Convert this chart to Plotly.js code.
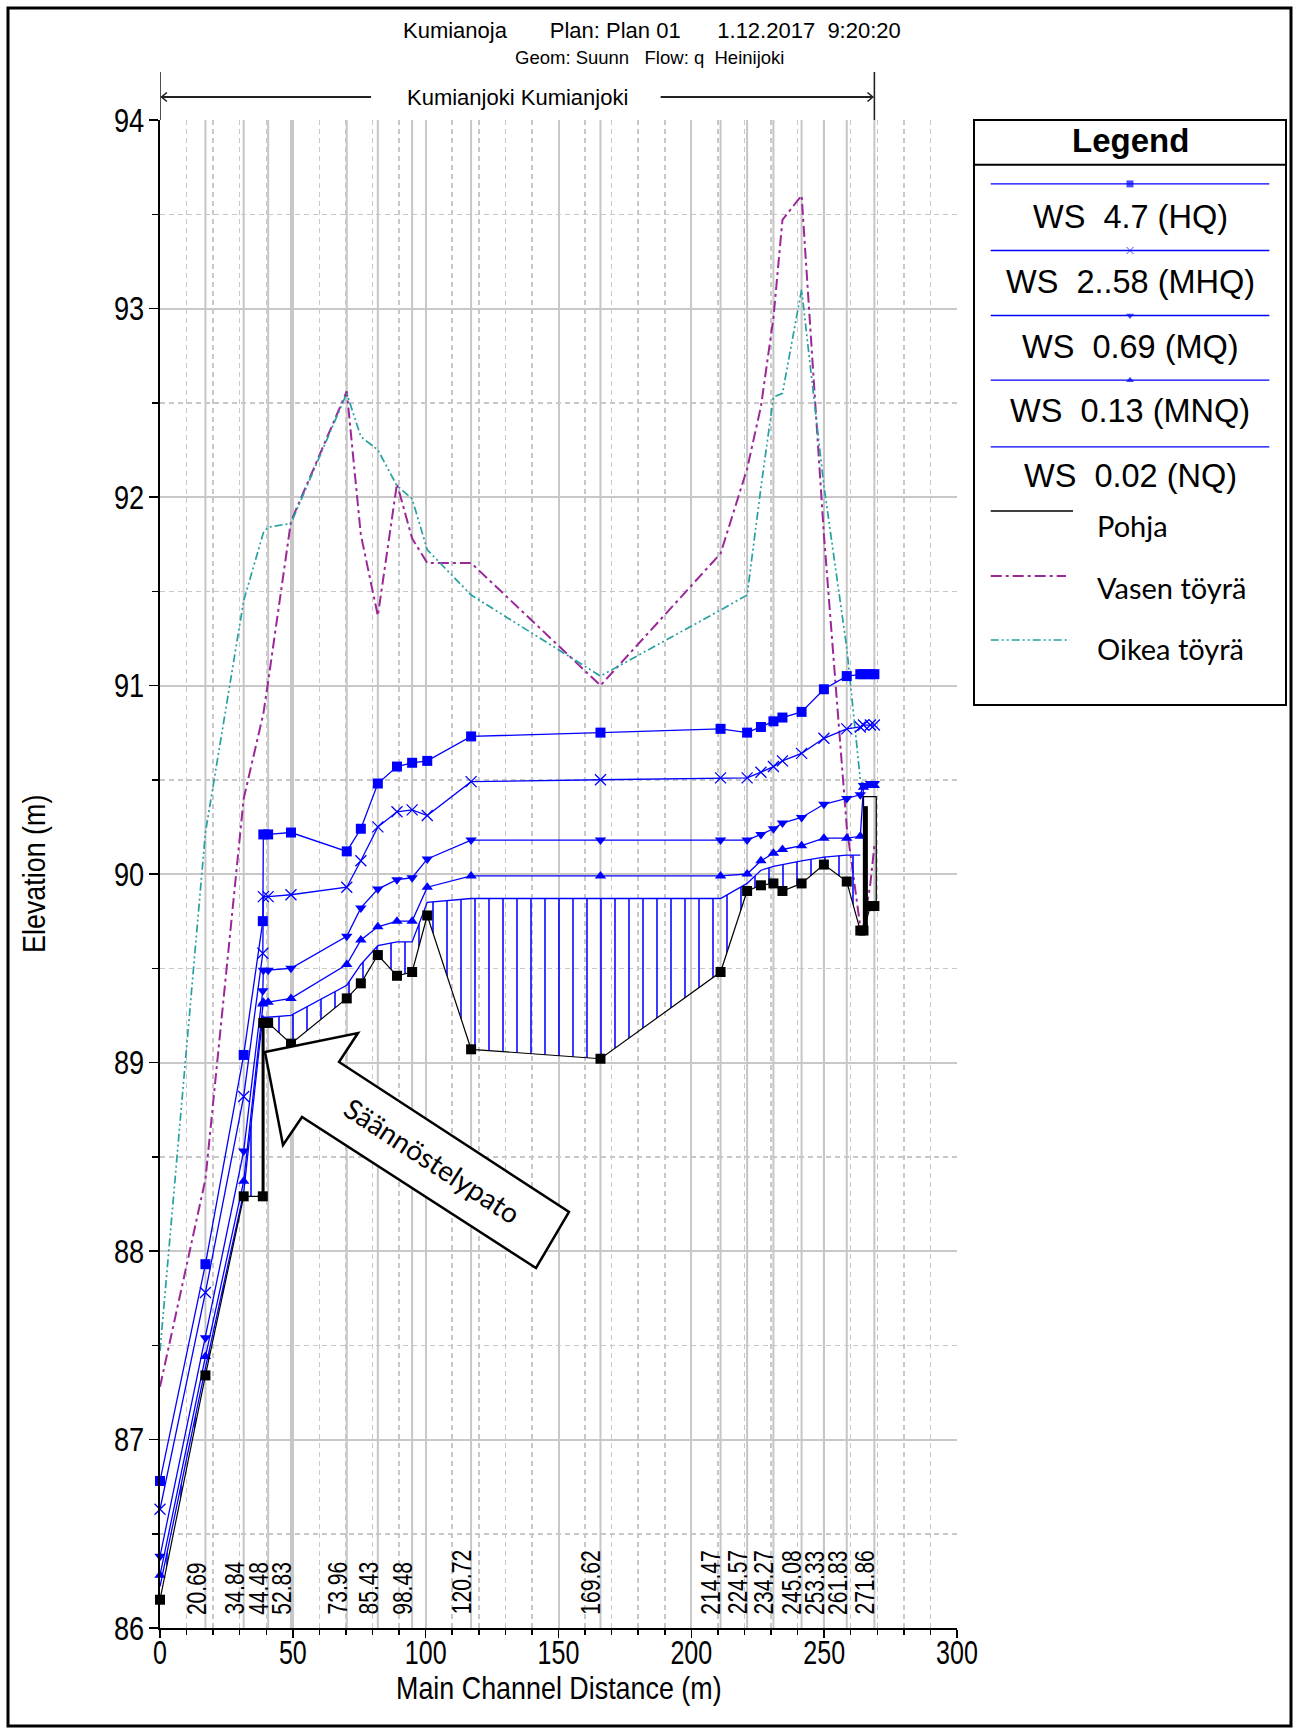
<!DOCTYPE html>
<html><head><meta charset="utf-8">
<script src="https://cdn.plot.ly/plotly-3.0.1.min.js"></script>
<style>html,body{margin:0;padding:0;background:#fff}#chart{width:1296px;height:1733px}</style>
</head><body><div id="chart"></div>
<script>
// ---------------- DATA ----------------
// main channel distance of every cross section (m)
const distance = [0, 17.1, 31.5, 38.7, 38.9, 40.7, 49.3, 70.3, 75.6, 82.0, 89.2, 94.9, 100.6, 117.1, 165.8, 211.0, 221.0, 226.2, 230.9, 234.3, 241.5, 249.9, 258.5, 263.6, 264.8, 267.4, 268.9];
// water surface profiles (m)
const wsHQ  = [86.78, 87.93, 89.04, 89.75, 90.21, 90.21, 90.22, 90.12, 90.24, 90.48, 90.57, 90.59, 90.60, 90.73, 90.75, 90.77, 90.75, 90.78, 90.81, 90.83, 90.86, 90.98, 91.05, 91.06, 91.06, 91.06, 91.06];
const wsMHQ = [86.63, 87.78, 88.82, 89.58, 89.88, 89.88, 89.89, 89.93, 90.07, 90.25, 90.33, 90.34, 90.31, 90.49, 90.50, 90.51, 90.51, 90.54, 90.57, 90.60, 90.64, 90.72, 90.77, 90.78, 90.79, 90.79, 90.79];
const wsMQ  = [86.38, 87.54, 88.53, 89.38, 89.49, 89.49, 89.50, 89.67, 89.82, 89.92, 89.97, 89.98, 90.08, 90.18, 90.18, 90.18, 90.18, 90.21, 90.24, 90.27, 90.30, 90.37, 90.40, 90.42, 90.47, 90.48, 90.48];
const wsMNQ = [86.28, 87.44, 88.37, 89.31, 89.32, 89.32, 89.34, 89.52, 89.65, 89.72, 89.75, 89.75, 89.93, 89.99, 89.99, 89.99, 90.00, 90.07, 90.11, 90.13, 90.15, 90.19, 90.19, 90.20, 90.46, 90.47, 90.47];
const wsNQ  = [86.22, 87.38, 88.31, 89.25, 89.24, 89.24, 89.25, 89.41, 89.52, 89.62, 89.64, 89.64, 89.85, 89.87, 89.87, 89.87, 89.95, 90.02, 90.04, 90.05, 90.07, 90.09, 90.10, 90.10, null, null, null];
// channel bed (Pohja)
const bed   = [86.15, 87.34, 88.29, 88.29, 89.21, 89.21, 89.10, 89.34, 89.42, 89.57, 89.46, 89.48, 89.78, 89.07, 89.02, 89.48, 89.91, 89.94, 89.95, 89.91, 89.95, 90.05, 89.96, 89.70, 89.70, 89.83, 89.83];
// bank elevations
const leftBank  = [87.28, 88.38, 90.40, 90.83, 90.85, 91.02, 91.87, 92.56, 91.80, 91.37, 92.07, 91.78, 91.65, 91.65, 91.00, 91.70, 92.15, 92.48, 92.95, 93.47, 93.60, 91.80, 90.25, 89.72, 89.72, 89.95, 90.15];
const rightBank = [87.47, 90.22, 91.45, 91.80, 91.81, 91.84, 91.86, 92.55, 92.32, 92.25, 92.06, 91.99, 91.72, 91.48, 91.05, 91.40, 91.48, 92.05, 92.53, 92.55, 93.10, 92.06, 91.20, 90.50, 90.47, 90.47, 90.47];
// labelled river stations and their distances
const stationLabels = ['20.69','34.84','44.48','52.83','73.96','85.43','98.48','120.72','169.62','214.47','224.57','234.27','245.08','253.33','261.83','271.86'];
const stationDist   = [17.1, 31.5, 40.7, 49.3, 70.3, 82.0, 94.9, 117.1, 165.8, 211.0, 221.0, 230.9, 241.5, 249.9, 258.5, 268.9];
// structures
const damX = [38.8, 38.8];            const damY = [88.29, 89.21];
const bridgeX = [264.8, 264.8, 269.6, 269.6]; const bridgeY = [89.70, 90.41, 90.41, 89.83];
const bridgeWallX = [265.7, 265.7];   const bridgeWallY = [89.72, 90.36];
// names
const wsNames = ['WS\u00a0\u00a04.7 (HQ)', 'WS\u00a0\u00a02..58 (MHQ)', 'WS\u00a0\u00a00.69 (MQ)', 'WS\u00a0\u00a00.13 (MNQ)', 'WS\u00a0\u00a00.02 (NQ)'];
const otherNames = ['Pohja', 'Vasen töyrä', 'Oikea töyrä'];
const xTickVals = [0, 50, 100, 150, 200, 250, 300];
const yTickVals = [86, 87, 88, 89, 90, 91, 92, 93, 94];

// ---------------- LAYOUT HELPERS ----------------
const W = 1296, H = 1733;
const M = {l: 160, r: 6, t: 120, b: 105};
const PW = W - M.l - M.r, PH = H - M.t - M.b;
const xp = px => (px - M.l) / PW;
const yp = py => (H - M.b - py) / PH;
const ARIAL = 'Liberation Sans, Arial, sans-serif';
const CAL = 'Lato, Open Sans, sans-serif';
const BLUE = '#0000ff', PURPLE = '#9b2799', TEAL = '#26a0a0';
const purpleDash = '11px,4px,3px,4px';
const tealDash = '8px,3px,2px,3px,2px,3px';

const wsStyles = [
  {sym: 'square', size: 10},
  {sym: 'x-thin', size: 11},
  {sym: 'triangle-down', size: 10},
  {sym: 'triangle-up', size: 10},
  null
];
const wsData = [wsHQ, wsMHQ, wsMQ, wsMNQ, wsNQ];

const traces = [];
// cross section lines
const slx = [], sly = [];
stationDist.forEach(d => { slx.push(d, d, null); sly.push(86, 94, null); });
traces.push({x: slx, y: sly, mode: 'lines', line: {color: '#c6c6c6', width: 2}, hoverinfo: 'skip', showlegend: false});
// banks
traces.push({x: distance, y: leftBank, mode: 'lines', line: {color: PURPLE, width: 2, dash: purpleDash}, name: otherNames[1], showlegend: false});
traces.push({x: distance, y: rightBank, mode: 'lines', line: {color: TEAL, width: 1.7, dash: tealDash}, name: otherNames[2], showlegend: false});
// hatch fill between bed and NQ
const nqIdx = wsNQ.map((v, i) => v === null ? -1 : i).filter(i => i >= 0);
traces.push({x: nqIdx.map(i => distance[i]), y: nqIdx.map(i => bed[i]), mode: 'lines', line: {width: 0, color: 'rgba(0,0,0,0)'}, hoverinfo: 'skip', showlegend: false});
traces.push({x: nqIdx.map(i => distance[i]), y: nqIdx.map(i => wsNQ[i]), mode: 'lines', name: wsNames[4],
  line: {color: BLUE, width: 1.3}, fill: 'tonexty', fillcolor: 'rgba(0,0,0,0)',
  fillpattern: {shape: '|', fgcolor: BLUE, bgcolor: 'rgba(255,255,255,0)', size: 14, solidity: 0.11}, showlegend: false, cliponaxis: false});
// other water surfaces
for (let k = 3; k >= 0; k--) {
  const st = wsStyles[k];
  traces.push({x: distance, y: wsData[k], mode: 'lines+markers', name: wsNames[k], showlegend: false, cliponaxis: false,
    line: {color: BLUE, width: 1.3},
    marker: {symbol: st.sym, size: st.size, color: BLUE, line: {color: BLUE, width: st.sym === 'x-thin' ? 1.3 : 0}}});
}
// bed
traces.push({x: distance, y: bed, mode: 'lines+markers', name: otherNames[0], showlegend: false, cliponaxis: false,
  line: {color: '#000', width: 1.2}, marker: {symbol: 'square', size: 10, color: '#000'}});
// dam and bridge
traces.push({x: damX, y: damY, mode: 'lines', line: {color: '#000', width: 3}, hoverinfo: 'skip', showlegend: false});
traces.push({x: bridgeX, y: bridgeY, mode: 'lines', line: {color: '#000', width: 1.3}, hoverinfo: 'skip', showlegend: false});
traces.push({x: bridgeWallX, y: bridgeWallY, mode: 'lines', line: {color: '#000', width: 4}, hoverinfo: 'skip', showlegend: false});

// ---------------- LEGEND (own box) ----------------
const legLineY = [183.9, 250.5, 315.5, 380.2, 446.8];
const legTextY = [215.2, 280.3, 345.4, 409.3, 473.6];
const legX = [990.7, 1130, 1269.3];
wsNames.forEach((n, k) => {
  const st = wsStyles[k];
  const ly = legLineY[k];
  const tr = {x: legX, y: [ly, ly, ly], xaxis: 'x2', yaxis: 'y2', mode: 'lines', showlegend: false, hoverinfo: 'skip',
    line: {color: BLUE, width: 1.3}};
  if (st) {
    tr.mode = 'lines+markers';
    tr.marker = {symbol: st.sym, size: [0, 7, 0], color: BLUE, line: {color: BLUE, width: st.sym === 'x-thin' ? 1 : 0}};
  }
  traces.push(tr);
});
const otherLineY = [511, 576, 640];
const otherLineEnd = [1073, 1066, 1070];
const otherStyles = [{color: '#000', width: 1.3}, {color: PURPLE, width: 2, dash: purpleDash}, {color: TEAL, width: 1.7, dash: tealDash}];
otherNames.forEach((n, k) => {
  traces.push({x: [990.7, otherLineEnd[k]], y: [otherLineY[k], otherLineY[k]], xaxis: 'x2', yaxis: 'y2', mode: 'lines', line: otherStyles[k], showlegend: false, hoverinfo: 'skip'});
});

const annotations = [];
const narrowList = []; // [annotation index, factor, pivot]
function addAnn(a, nar) { annotations.push(a); if (nar) narrowList.push([annotations.length - 1, nar[0], nar[1]]); }
// titles
addAnn({xref: 'paper', yref: 'paper', x: xp(652), y: yp(31), xanchor: 'center', yanchor: 'middle', showarrow: false,
  text: 'Kumianoja' + '\u00a0'.repeat(7) + 'Plan: Plan 01' + '\u00a0'.repeat(6) + '1.12.2017' + '\u00a0'.repeat(2) + '9:20:20',
  font: {family: ARIAL, size: 22, color: '#000'}});
addAnn({xref: 'paper', yref: 'paper', x: xp(649), y: yp(58), xanchor: 'center', yanchor: 'middle', showarrow: false,
  text: 'Geom: Suunn' + '\u00a0'.repeat(3) + 'Flow: q' + '\u00a0'.repeat(2) + 'Heinijoki',
  font: {family: ARIAL, size: 18.5, color: '#000'}});
// reach label
const reachMid = (distance[0] + distance[distance.length - 1]) / 2;
addAnn({xref: 'x', yref: 'paper', x: reachMid, y: yp(97), xanchor: 'center', yanchor: 'middle', showarrow: false,
  text: 'Kumianjoki Kumianjoki', font: {family: ARIAL, size: 22, color: '#000'}});
// axis titles
addAnn({xref: 'x', yref: 'paper', x: 150, y: yp(1688), xanchor: 'center', yanchor: 'middle', showarrow: false,
  text: 'Main Channel Distance (m)', font: {family: ARIAL, size: 32, color: '#000'}}, [0.84, 'center']);
addAnn({xref: 'paper', yref: 'paper', x: xp(34), y: 0.5, xanchor: 'center', yanchor: 'middle', showarrow: false, textangle: -90,
  text: 'Elevation (m)', font: {family: ARIAL, size: 32, color: '#000'}}, [0.84, 'center']);
// station labels
stationLabels.forEach((s, i) => {
  addAnn({xref: 'x', yref: 'y', x: stationDist[i], y: 86.06, xanchor: 'right', yanchor: 'bottom', textangle: -90, showarrow: false,
    xshift: 8, text: s, font: {family: ARIAL, size: 27, color: '#000'}}, [0.78, 'start']);
});
// legend texts
addAnn({xref: 'paper', yref: 'paper', x: xp(1130), y: yp(141), xanchor: 'center', yanchor: 'middle', showarrow: false,
  text: '<b>Legend</b>', font: {family: ARIAL, size: 33, color: '#000'}});
wsNames.forEach((n, k) => addAnn({xref: 'paper', yref: 'paper', x: xp(1130), y: yp(legTextY[k] + 2), xanchor: 'center', yanchor: 'middle', showarrow: false,
  text: n, font: {family: ARIAL, size: 32.5, color: '#000'}}));
const otherTextY = [525, 587, 648];
otherNames.forEach((n, k) => addAnn({xref: 'paper', yref: 'paper', x: xp(1095), y: yp(otherTextY[k]), xanchor: 'left', yanchor: 'middle', showarrow: false,
  text: n, font: {family: CAL, size: 29, color: '#000'}}));
// Säännöstelypato arrow text
addAnn({xref: 'paper', yref: 'paper', x: xp(432), y: yp(1160), xanchor: 'center', yanchor: 'middle', showarrow: false, textangle: 33.2,
  text: 'Säännöstelypato', font: {family: CAL, size: 28, color: '#000'}});

const shapes = [];
// outer frame
shapes.push({type: 'rect', xref: 'paper', yref: 'paper', x0: xp(8), x1: xp(1291), y0: yp(8), y1: yp(1726), line: {color: '#000', width: 3}, fillcolor: 'rgba(0,0,0,0)'});
// reach arrow
const r0 = distance[0], r1 = distance[distance.length - 1];
const yTop = yp(72), yArr = yp(97), yBase = yp(120);
const lineStyle = {color: '#222', width: 1.6};
shapes.push({type: 'line', xref: 'x', yref: 'paper', x0: r0, x1: r0, y0: yBase, y1: yTop, line: lineStyle});
shapes.push({type: 'line', xref: 'x', yref: 'paper', x0: r1, x1: r1, y0: yBase, y1: yTop, line: lineStyle});
shapes.push({type: 'line', xref: 'x', yref: 'paper', x0: r0 + 0.5, x1: reachMid - 55, y0: yArr, y1: yArr, line: {color: '#222', width: 2}});
shapes.push({type: 'line', xref: 'x', yref: 'paper', x0: reachMid + 54, x1: r1 - 0.5, y0: yArr, y1: yArr, line: {color: '#222', width: 2}});
shapes.push({type: 'path', xref: 'x', yref: 'paper', path: `M ${r0 + 2.6},${yp(92.5)} L ${r0 + 0.6},${yArr} L ${r0 + 2.6},${yp(101.5)}`, line: lineStyle});
shapes.push({type: 'path', xref: 'x', yref: 'paper', path: `M ${r1 - 2.6},${yp(92.5)} L ${r1 - 0.6},${yArr} L ${r1 - 2.6},${yp(101.5)}`, line: lineStyle});
// legend box
shapes.push({type: 'rect', xref: 'paper', yref: 'paper', x0: xp(974), x1: xp(1286), y0: yp(120), y1: yp(705), line: {color: '#000', width: 2}, fillcolor: 'rgba(0,0,0,0)'});
shapes.push({type: 'line', xref: 'paper', yref: 'paper', x0: xp(974), x1: xp(1286), y0: yp(164.7), y1: yp(164.7), line: {color: '#000', width: 2}});
// block arrow pointing at the dam
const arrowPts = [[265, 1052], [358, 1033], [339, 1062], [569, 1212], [536, 1268], [302, 1117], [283, 1145]];
shapes.push({type: 'path', xref: 'paper', yref: 'paper', layer: 'above',
  path: 'M ' + arrowPts.map(p => xp(p[0]) + ',' + yp(p[1])).join(' L ') + ' Z',
  fillcolor: '#ffffff', line: {color: '#000', width: 2.5}});

const GRID = '#c8c8c8';
const layout = {
  width: W, height: H, margin: M, paper_bgcolor: '#fff', plot_bgcolor: '#fff', showlegend: false,
  xaxis: {domain: [0, xp(957)], range: [0, 300], tickvals: xTickVals, ticktext: xTickVals.map(String),
    showgrid: true, gridcolor: GRID, gridwidth: 2, zeroline: false,
    showline: true, linecolor: '#000', linewidth: 2, ticks: 'outside', ticklen: 8, tickwidth: 1.5, tickcolor: '#000',
    tickfont: {family: ARIAL, size: 33, color: '#000'},
    minor: {dtick: 10, showgrid: true, gridcolor: GRID, griddash: '5px,4px', gridwidth: 1.5, ticks: 'outside', ticklen: 5, tickwidth: 1.5, tickcolor: '#000'}},
  yaxis: {domain: [0, 1], range: [86, 94], tickvals: yTickVals, ticktext: yTickVals.map(String),
    showgrid: true, gridcolor: GRID, gridwidth: 2, zeroline: false,
    showline: true, linecolor: '#000', linewidth: 2, ticks: 'outside', ticklen: 9, tickwidth: 1.5, tickcolor: '#000',
    tickfont: {family: ARIAL, size: 34, color: '#000'},
    minor: {dtick: 0.5, showgrid: true, gridcolor: GRID, griddash: '5px,4px', gridwidth: 1.5, ticks: 'outside', ticklen: 6, tickwidth: 1.5, tickcolor: '#000'}},
  xaxis2: {domain: [xp(970), 1], range: [970, 1290], visible: false, anchor: 'y2'},
  yaxis2: {domain: [0, 1], range: [H - M.b, M.t], visible: false, anchor: 'x2'},
  annotations: annotations, shapes: shapes
};

// condense text horizontally (the original uses a narrow face)
function narrow(el, f, pivot, dx, dy) {
  const bb = el.getBBox();
  const px = pivot === 'start' ? bb.x : pivot === 'end' ? bb.x + bb.width : bb.x + bb.width / 2;
  const py = bb.y + bb.height / 2;
  const orig = el.getAttribute('transform') || '';
  el.setAttribute('transform', `translate(${dx || 0},${dy || 0}) ${orig} translate(${px},${py}) scale(${f},1) translate(${-px},${-py})`);
}
Plotly.newPlot('chart', traces, layout, {staticPlot: true}).then(gd => {
  gd.querySelectorAll('.xtick text').forEach(t => narrow(t, 0.76, 'center', 0, -14));
  gd.querySelectorAll('.ytick text').forEach(t => narrow(t, 0.8, 'end', 2, 0));
  narrowList.forEach(([idx, f, pivot]) => {
    const t = gd.querySelector(`.annotation[data-index="${idx}"] text`);
    if (t) narrow(t, f, pivot);
  });
});
</script></body></html>
